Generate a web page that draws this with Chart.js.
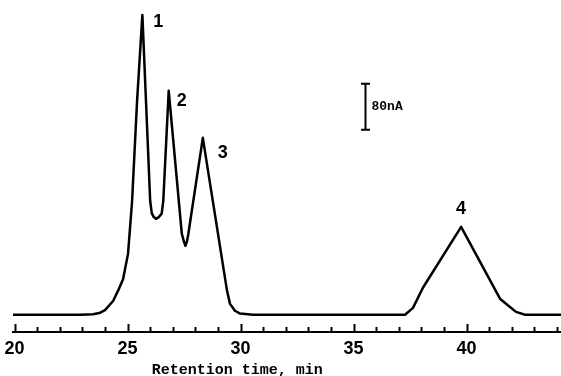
<!DOCTYPE html>
<html>
<head>
<meta charset="utf-8">
<script src="https://cdn.jsdelivr.net/npm/chart.js@4.4.1/dist/chart.umd.min.js"></script>
<style>
  html, body { margin: 0; padding: 0; background: #fff; overflow: hidden; }
  #wrap { width: 561px; height: 376px; }
  canvas { display: block; }
</style>
</head>
<body>
<div id="wrap"><canvas id="chromChart"></canvas></div>
<script>
// Retention time (min) and detector signal (nA)
const times = [19.9, 22.9, 23.47, 23.75, 24.0, 24.36, 24.58, 24.8, 25.02, 25.2, 25.42, 25.655,
    26.0, 26.07, 26.16, 26.26, 26.38, 26.51, 26.58, 26.82,
    27.40, 27.49, 27.56, 27.63, 27.69, 28.33,
    29.4, 29.535, 29.75, 29.98, 30.55,
    37.28, 37.63, 38.07, 39.76, 41.48, 41.84, 42.19, 42.59, 44.2];
const signal = [0, 0, 1, 3, 8, 24, 42, 62, 106, 198, 372, 522,
    198, 177, 170, 167, 170, 176, 198, 390,
    141, 128, 120, 128, 141, 308,
    42, 19, 7, 2, 0,
    0, 12, 47, 153, 28, 16, 5, 0, 0];

const peakNames = ['1', '2', '3', '4'];
const peakTimes = [25.655, 26.82, 28.33, 39.76];
const peakHeights = [522, 390, 308, 153];

const tickLabels = [20, 25, 30, 35, 40];
const minorTicks = [20, 21, 22, 23, 24, 25, 26, 27, 28, 29, 30, 31, 32,
    33, 34, 35, 36, 37, 38, 39, 40, 41, 42, 43, 44];

const points = times.map((t, i) => ({ x: t, y: signal[i] }));

const narrow = '"Liberation Sans Narrow", "Liberation Sans", sans-serif';
const mono = '"Liberation Mono", "DejaVu Sans Mono", monospace';

// upward tick marks, peak numbers, axis title and the 80 nA scale bar
const extras = {
    id: 'extras',
    afterDatasetsDraw(chart) {
        const ctx = chart.ctx;
        const xs = chart.scales.x;
        const ys = chart.scales.y;
        const axisY = chart.chartArea.bottom;

        ctx.save();
        ctx.strokeStyle = '#000';
        ctx.fillStyle = '#000';

        ctx.lineWidth = 2;
        minorTicks.forEach(v => {
            const px = Math.round(xs.getPixelForValue(v)) + 0.5;
            const len = tickLabels.includes(v) ? 8 : 5;
            ctx.beginPath();
            ctx.moveTo(px, axisY);
            ctx.lineTo(px, axisY - len);
            ctx.stroke();
        });

        // peak numbers
        const offs = [[16, 7], [13, 10], [20, 15], [0, -18]];
        ctx.font = 'bold 18px ' + narrow;
        ctx.textAlign = 'center';
        ctx.textBaseline = 'middle';
        peakNames.forEach((name, i) => {
            const px = xs.getPixelForValue(peakTimes[i]);
            const py = ys.getPixelForValue(peakHeights[i]);
            ctx.fillText(name, px + offs[i][0], py + offs[i][1]);
        });

        // axis title (sits left of centre in the original)
        ctx.font = 'bold 15px ' + mono;
        ctx.fillText('Retention time, min', xs.getPixelForValue(29.85), 370);

        // 80 nA scale bar
        const barX = Math.round(xs.getPixelForValue(35.51)) + 0.5;
        const barBottom = ys.getPixelForValue(322);
        const barTop = ys.getPixelForValue(402);
        ctx.lineWidth = 2;
        ctx.beginPath();
        ctx.moveTo(barX, barTop);
        ctx.lineTo(barX, barBottom);
        ctx.moveTo(barX - 4.5, barTop);
        ctx.lineTo(barX + 4.5, barTop);
        ctx.moveTo(barX - 4.5, barBottom);
        ctx.lineTo(barX + 4.5, barBottom);
        ctx.stroke();
        ctx.font = 'bold 13px ' + mono;
        ctx.textAlign = 'left';
        ctx.fillText('80nA', barX + 6, (barTop + barBottom) / 2);

        ctx.restore();
    }
};

const ctx = document.getElementById('chromChart').getContext('2d');
new Chart(ctx, {
    type: 'line',
    data: {
        datasets: [{
            data: points,
            borderColor: '#000',
            borderWidth: 2.5,
            borderJoinStyle: 'round',
            pointRadius: 0,
            tension: 0,
            fill: false
        }]
    },
    options: {
        responsive: true,
        maintainAspectRatio: false,
        animation: false,
        layout: { padding: { left: 13, right: 0, top: 4, bottom: 10 } },
        plugins: {
            legend: { display: false },
            tooltip: { enabled: false }
        },
        scales: {
            x: {
                type: 'linear',
                min: 19.93,
                max: 44.18,
                afterBuildTicks: (scale) => {
                    scale.ticks = minorTicks.map(v => ({ value: v }));
                },
                afterFit: (scale) => {
                    // let the axis run to the canvas edges like the original
                    scale.paddingLeft = 0;
                    scale.paddingRight = 0;
                },
                grid: { display: false, drawTicks: false },
                border: { display: true, color: '#000', width: 2 },
                ticks: {
                    autoSkip: false,
                    maxRotation: 0,
                    padding: 8,
                    color: '#000',
                    font: { family: narrow, size: 18, weight: 'bold', lineHeight: 1 },
                    callback: (v) => tickLabels.includes(v) ? String(v) : ''
                }
            },
            y: {
                display: false,
                min: -30,
                max: 541
            }
        }
    },
    plugins: [extras]
});
</script>
</body>
</html>
